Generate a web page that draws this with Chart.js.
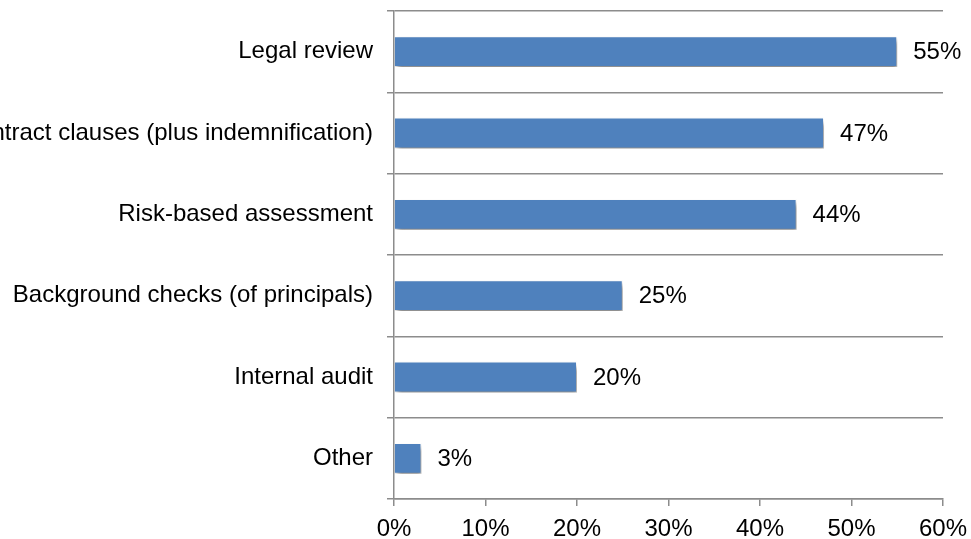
<!DOCTYPE html>
<html>
<head>
<meta charset="utf-8">
<script src="https://cdn.jsdelivr.net/npm/chart.js@4/dist/chart.umd.min.js"></script>
<style>
  html, body { margin: 0; padding: 0; background: #fff; }
  #wrap { width: 971px; height: 539px; }
</style>
</head>
<body>
<div id="wrap"><canvas id="myChart"></canvas></div>
<script>
// Data
const categories = ["Legal review", "Contract clauses (plus indemnification)", "Risk-based assessment",
	"Background checks (of principals)", "Internal audit", "Other"];
const shares = [55, 47, 44, 25, 20, 3];
const xTicks = [0, 10, 20, 30, 40, 50, 60];

const lineColor = "#8c8c8c";
const fontFamily = "'Liberation Sans', Arial, sans-serif";
const fontSize = 24;

// Soft shadow under the bars, like the office chart style
const barShadow = {
	id: "barShadow",
	beforeDatasetsDraw(chart) {
		const ctx = chart.ctx;
		ctx.save();
		ctx.shadowColor = "rgba(0,0,0,0.5)";
		ctx.shadowOffsetX = 2;
		ctx.shadowOffsetY = 4;
		ctx.shadowBlur = 5;
	},
	afterDatasetsDraw(chart) {
		chart.ctx.restore();
	}
};

// Percent labels to the right of each bar
const valueLabels = {
	id: "valueLabels",
	afterDatasetsDraw(chart) {
		const ctx = chart.ctx;
		const meta = chart.getDatasetMeta(0);
		ctx.save();
		ctx.font = fontSize + "px " + fontFamily;
		ctx.fillStyle = "#000";
		ctx.textAlign = "left";
		ctx.textBaseline = "middle";
		meta.data.forEach((bar, i) => {
			ctx.fillText(shares[i] + "%", bar.x + 16, bar.y + 1);
		});
		ctx.restore();
	}
};

new Chart("myChart", {
	type: "bar",
	data: {
		labels: categories,
		datasets: [{
			data: shares,
			backgroundColor: "#4f81bd",
			borderColor: "#ffffff",
			borderWidth: 1,
			categoryPercentage: 1,
			barPercentage: 0.38
		}]
	},
	options: {
		indexAxis: "y",
		responsive: true,
		maintainAspectRatio: false,
		animation: false,
		layout: { padding: { top: 11, right: 28, left: 0, bottom: 0 } },
		plugins: {
			legend: { display: false },
			tooltip: { enabled: false }
		},
		scales: {
			x: {
				min: 0,
				max: 60,
				afterBuildTicks(scale) {
					scale.ticks = xTicks.map(v => ({ value: v }));
				},
				afterFit(scale) {
					scale.height = 40;
					scale.paddingLeft = 0;
					scale.paddingRight = 0;
				},
				grid: {
					drawOnChartArea: false,
					drawTicks: true,
					tickLength: 7,
					color: lineColor,
					lineWidth: 1.5
				},
				border: { display: true, color: lineColor, width: 1.5 },
				ticks: {
					color: "#000",
					padding: 9,
					maxRotation: 0,
					font: { family: fontFamily, size: fontSize },
					callback: v => v + "%"
				}
			},
			y: {
				afterFit(scale) {
					scale.width = 394;
					scale.paddingTop = 0;
					scale.paddingBottom = 0;
				},
				grid: {
					offset: true,
					drawTicks: true,
					tickLength: 7,
					color: lineColor,
					lineWidth: 1.5
				},
				border: { display: true, color: lineColor, width: 1.5 },
				ticks: {
					color: "#000",
					padding: 14,
					autoSkip: false,
					font: { family: fontFamily, size: fontSize }
				}
			}
		}
	},
	plugins: [barShadow, valueLabels]
});
</script>
</body>
</html>
